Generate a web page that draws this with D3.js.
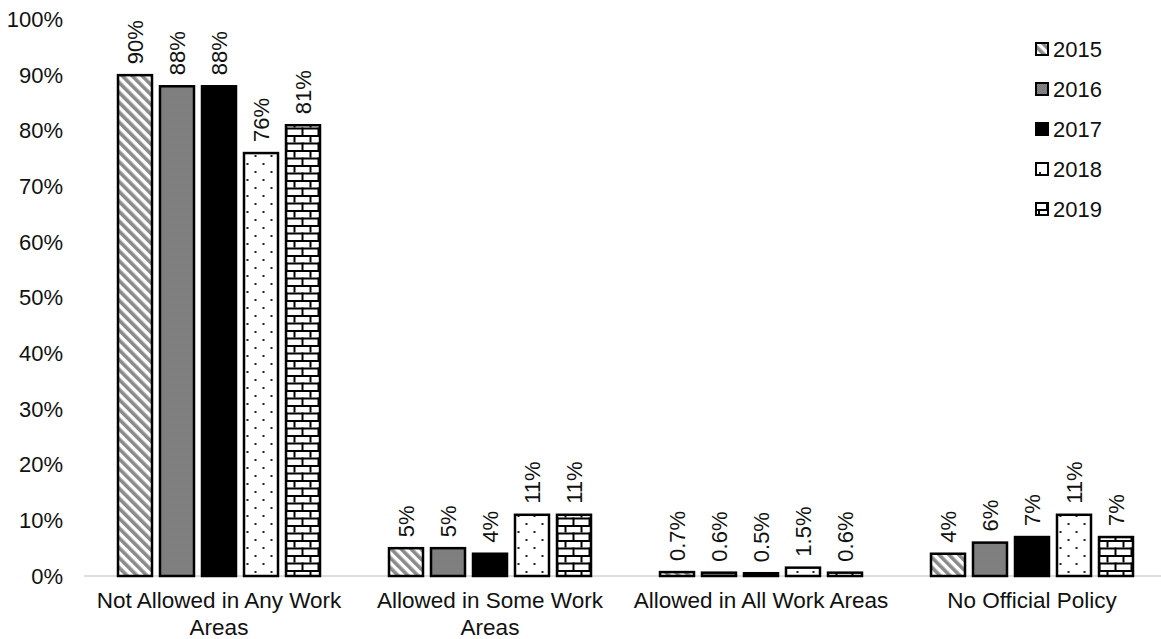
<!DOCTYPE html>
<html>
<head>
<meta charset="utf-8">
<script src="https://cdn.jsdelivr.net/npm/d3@7"></script>
<style>
  html, body { margin: 0; padding: 0; background: #fff; }
  svg { display: block; font-family: "Liberation Sans", Arial, sans-serif; }
</style>
</head>
<body>
<svg id="chart" width="1161" height="639"></svg>
<script>
// Smoking policy in work areas, share of respondents by year
const categories = [
  ["Not Allowed in Any Work", "Areas"],
  ["Allowed in Some Work", "Areas"],
  ["Allowed in All Work Areas"],
  ["No Official Policy"]
];
const years = ["2015", "2016", "2017", "2018", "2019"];
const values2015 = [90, 5, 0.7, 4];
const values2016 = [88, 5, 0.6, 6];
const values2017 = [88, 4, 0.5, 7];
const values2018 = [76, 11, 1.5, 11];
const values2019 = [81, 11, 0.6, 7];
const seriesValues = [values2015, values2016, values2017, values2018, values2019];
const yTicks = [0, 10, 20, 30, 40, 50, 60, 70, 80, 90, 100];

const svg = d3.select("#chart");
const defs = svg.append("defs");
const textColor = "#111";

// Fill patterns, one per year
const pStripe = defs.append("pattern").attr("id", "fill2015")
  .attr("patternUnits", "userSpaceOnUse").attr("width", 7).attr("height", 7)
  .attr("patternTransform", "rotate(-45)");
pStripe.append("rect").attr("width", 7).attr("height", 7).attr("fill", "#fff");
pStripe.append("rect").attr("width", 3.6).attr("height", 7).attr("fill", "#8a8a8a");

const pGray = defs.append("pattern").attr("id", "fill2016")
  .attr("patternUnits", "userSpaceOnUse").attr("width", 2).attr("height", 2);
pGray.append("rect").attr("width", 2).attr("height", 2).attr("fill", "#858585");
pGray.append("rect").attr("width", 1).attr("height", 1).attr("fill", "#767676");
pGray.append("rect").attr("x", 1).attr("y", 1).attr("width", 1).attr("height", 1).attr("fill", "#7a7a7a");

const pDots = defs.append("pattern").attr("id", "fill2018")
  .attr("patternUnits", "userSpaceOnUse").attr("width", 16).attr("height", 16);
pDots.append("rect").attr("width", 16).attr("height", 16).attr("fill", "#fff");
pDots.append("rect").attr("x", 3).attr("y", 3).attr("width", 2).attr("height", 2).attr("fill", "#222");
pDots.append("rect").attr("x", 11).attr("y", 11).attr("width", 2).attr("height", 2).attr("fill", "#222");

const pBrick = defs.append("pattern").attr("id", "fill2019")
  .attr("patternUnits", "userSpaceOnUse").attr("width", 16).attr("height", 15);
pBrick.append("rect").attr("width", 16).attr("height", 15).attr("fill", "#fff");
pBrick.append("rect").attr("x", 0).attr("y", 0).attr("width", 16).attr("height", 2).attr("fill", "#000");
pBrick.append("rect").attr("x", 0).attr("y", 7.5).attr("width", 16).attr("height", 2).attr("fill", "#000");
pBrick.append("rect").attr("x", 2).attr("y", 0).attr("width", 2).attr("height", 7.5).attr("fill", "#000");
pBrick.append("rect").attr("x", 10).attr("y", 7.5).attr("width", 2).attr("height", 7.5).attr("fill", "#000");

const fills = ["url(#fill2015)", "url(#fill2016)", "#000", "url(#fill2018)", "url(#fill2019)"];

// Scales
const x0 = d3.scaleBand().domain(d3.range(categories.length)).range([83.5, 1167.5]).padding(0);
const x1 = d3.scaleBand().domain(years).range([34.5, 236.5]).paddingInner(8 / 42).paddingOuter(0);
const y = d3.scaleLinear().domain([0, 100]).range([576, 19.5]);

// Y axis labels only
const yAxis = d3.axisLeft(y).tickValues(yTicks).tickFormat(d => d + "%").tickSize(0).tickPadding(0);
const yg = svg.append("g").attr("transform", "translate(63,0)").call(yAxis);
yg.select(".domain").remove();
yg.selectAll("text").attr("font-size", 22).attr("fill", textColor)
  .attr("font-family", "'Liberation Sans', Arial, sans-serif");

// Baseline
svg.append("line")
  .attr("x1", 84).attr("x2", 1161)
  .attr("y1", y(0)).attr("y2", y(0))
  .attr("stroke", "#d4d4d4").attr("stroke-width", 1.5);

const fmt = v => (Number.isInteger(v) ? v : v.toFixed(1)) + "%";

// Bars and value labels
const groups = svg.append("g").selectAll("g")
  .data(categories.map((c, i) => i))
  .join("g")
  .attr("transform", i => `translate(${x0(i)},0)`);

groups.selectAll("rect")
  .data(i => years.map((yr, s) => ({ yr, s, v: seriesValues[s][i] })))
  .join("rect")
  .attr("x", d => x1(d.yr))
  .attr("y", d => y(d.v))
  .attr("width", x1.bandwidth())
  .attr("height", d => y(0) - y(d.v))
  .attr("fill", d => fills[d.s])
  .attr("stroke", "#000")
  .attr("stroke-width", 2.5);

groups.selectAll("text.val")
  .data(i => years.map((yr, s) => ({ yr, s, v: seriesValues[s][i] })))
  .join("text")
  .attr("class", "val")
  .attr("transform", d => `translate(${x1(d.yr) + x1.bandwidth() / 2},${y(d.v) - 11}) rotate(-90)`)
  .attr("dy", "0.35em")
  .attr("text-anchor", "start")
  .attr("font-size", 22)
  .attr("fill", textColor)
  .text(d => fmt(d.v));

// Category labels
const catLabels = svg.append("g").selectAll("text")
  .data(categories)
  .join("text")
  .attr("x", (c, i) => x0(i) + x0.bandwidth() / 2)
  .attr("y", 608)
  .attr("text-anchor", "middle")
  .attr("font-size", 22.5)
  .attr("fill", textColor);
catLabels.selectAll("tspan")
  .data(c => c)
  .join("tspan")
  .attr("x", function () { return d3.select(this.parentNode).attr("x"); })
  .attr("dy", (t, j) => j === 0 ? 0 : 27)
  .text(t => t);

// Legend
const legend = svg.append("g").selectAll("g")
  .data(years)
  .join("g")
  .attr("transform", (yr, s) => `translate(1036,${49 + s * 40})`);
legend.append("rect")
  .attr("x", 0).attr("y", -6).attr("width", 12).attr("height", 12)
  .attr("fill", (yr, s) => fills[s])
  .attr("stroke", "#000").attr("stroke-width", 2);
legend.append("text")
  .attr("x", 17).attr("y", 0).attr("dy", "0.35em")
  .attr("font-size", 22).attr("fill", textColor)
  .text(yr => yr);
</script>
</body>
</html>
